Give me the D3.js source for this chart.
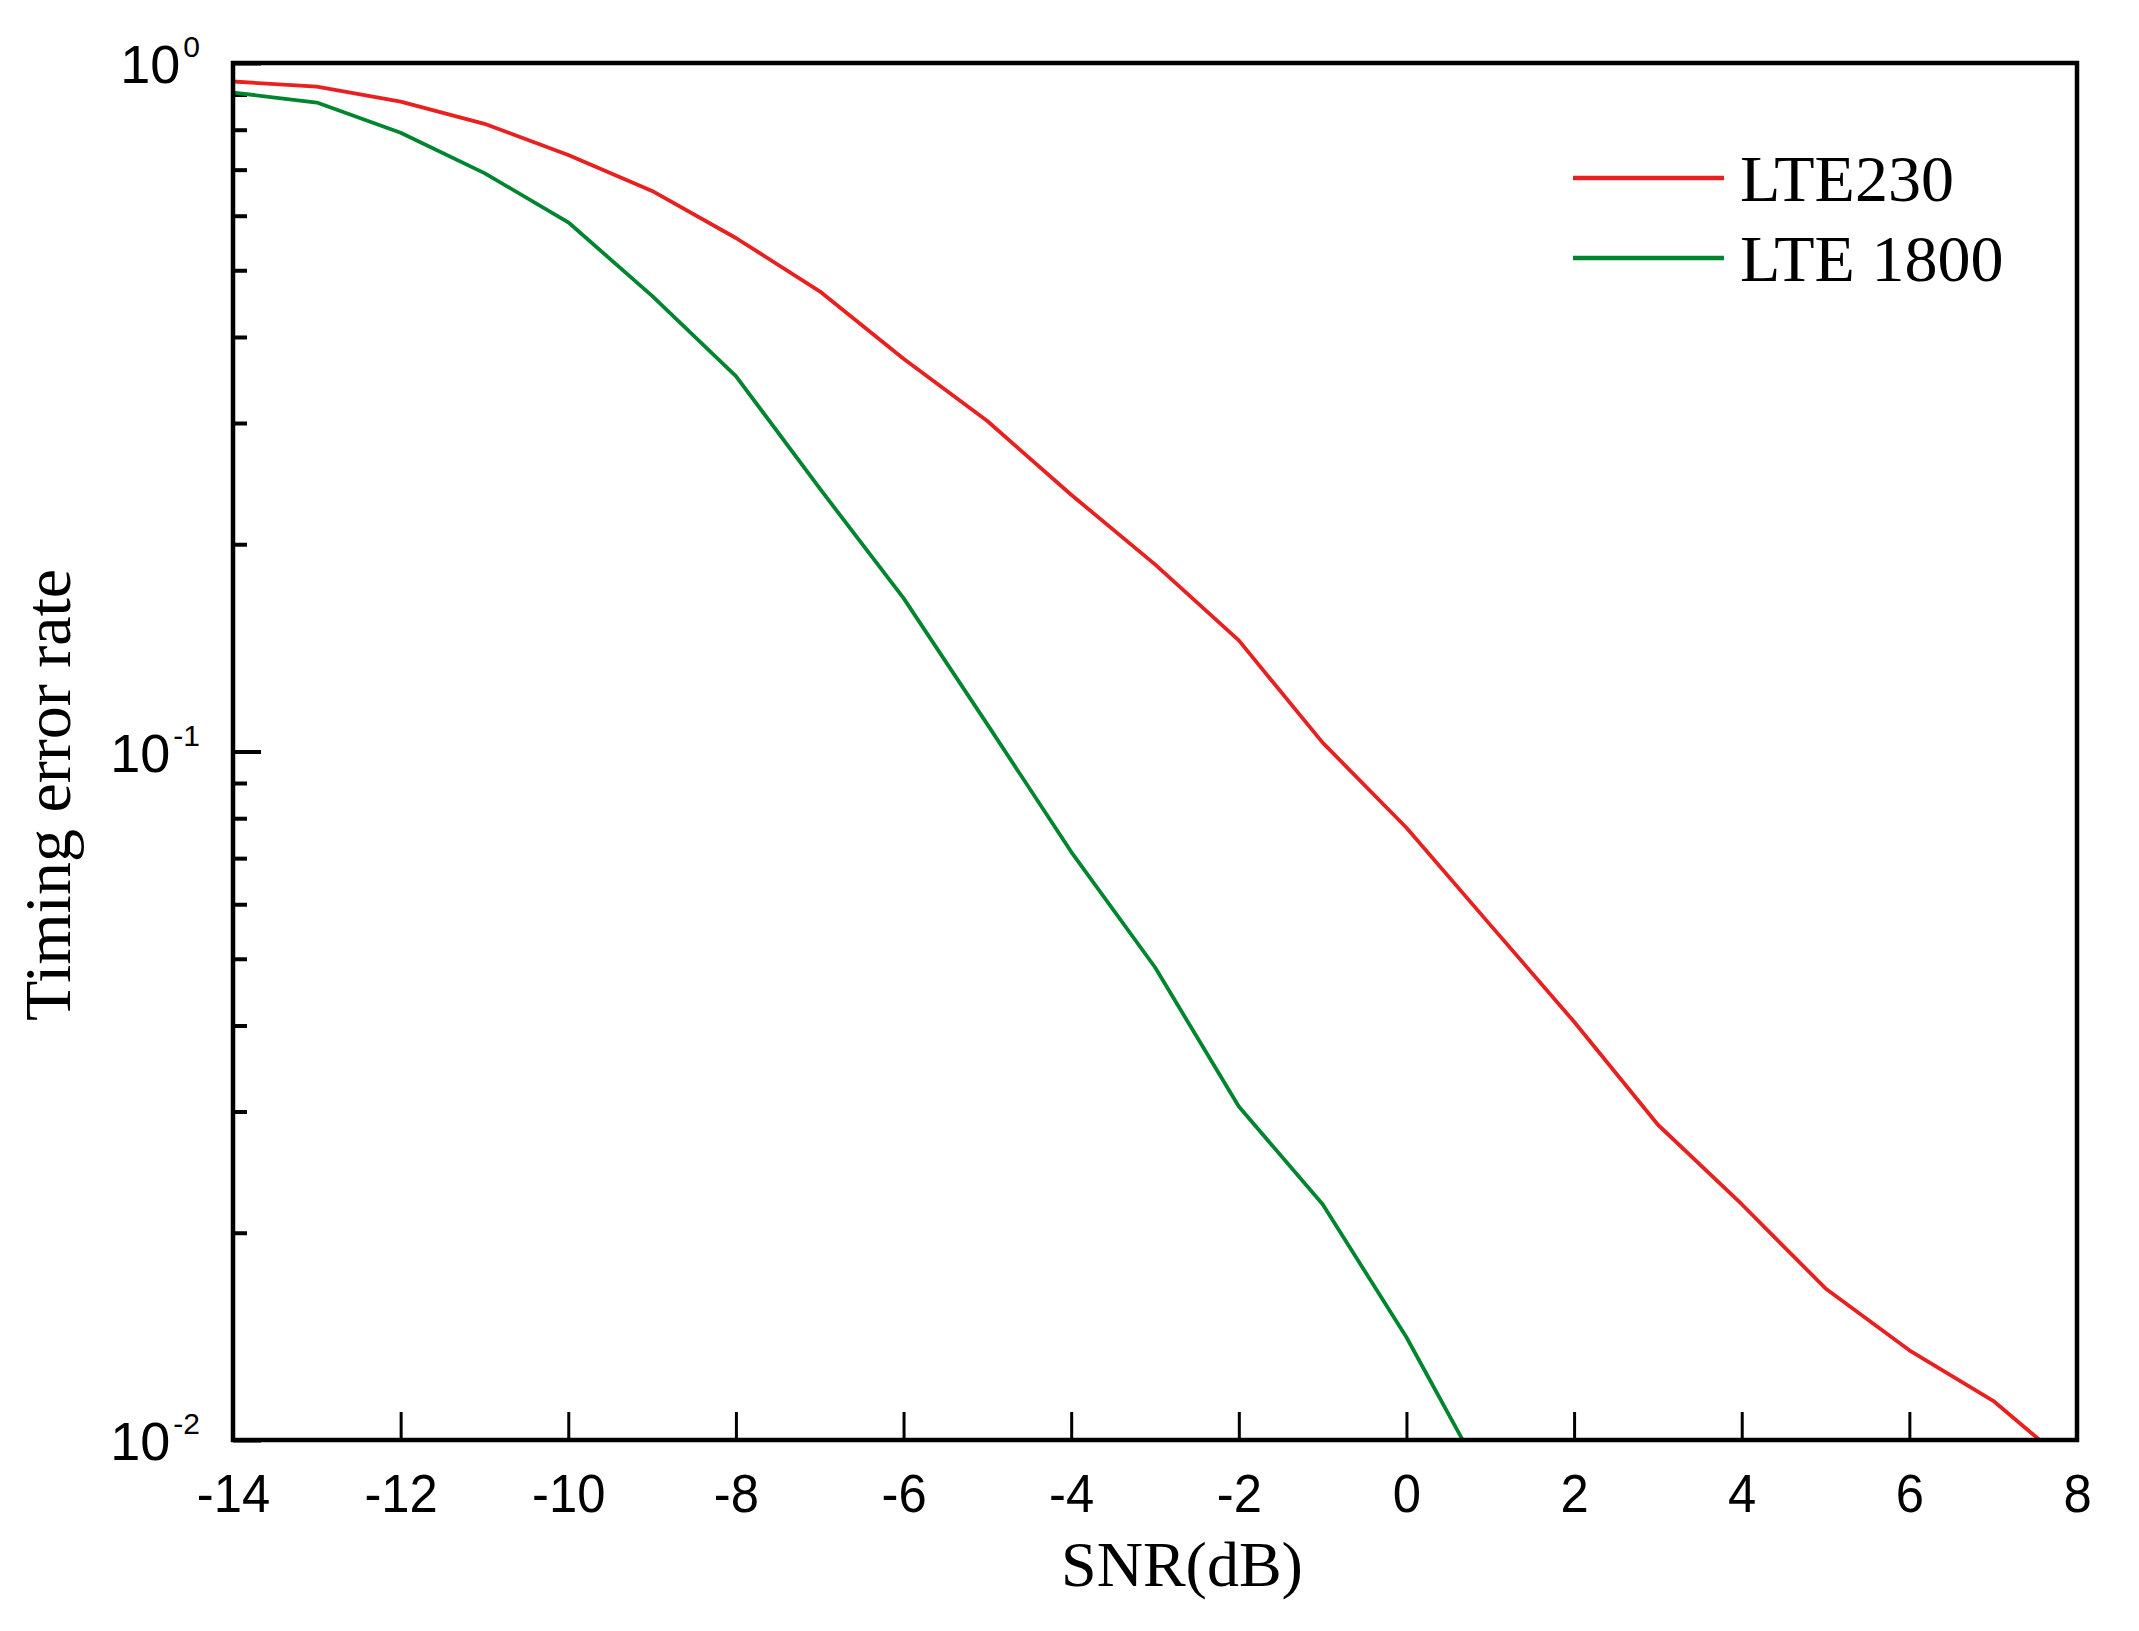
<!DOCTYPE html>
<html>
<head>
<meta charset="utf-8">
<script src="https://cdn.jsdelivr.net/npm/d3@7"></script>
<style>
  html, body { margin: 0; padding: 0; background: #fff; }
  svg { display: block; }
</style>
</head>
<body>
<svg id="chart" width="2139" height="1631"></svg>
<script>
// ---- data ----
const snr = [-14,-13,-12,-11,-10,-9,-8,-7,-6,-5,-4,-3,-2,-1,0,1,2,3,4,5,6,7,8];
const lte230 = [0.940,0.924,0.879,0.816,0.735,0.652,0.557,0.466,0.372,0.302,0.236,0.187,0.145,0.103,0.0775,0.056,0.0405,0.0287,0.022,0.0166,0.0135,0.0114,0.0090];
const snr1800 = [-14,-13,-12,-11,-10,-9,-8,-7,-6,-5,-4,-3,-2,-1,0,1];
const lte1800 = [0.906,0.876,0.792,0.692,0.587,0.459,0.351,0.241,0.167,0.1095,0.0715,0.0486,0.0305,0.022,0.0141,0.00845];
const xTicks = [-14,-12,-10,-8,-6,-4,-2,0,2,4,6,8];
const yMajor = [1, 0.1, 0.01];
const yExp = ["0", "-1", "-2"];
const seriesNames = ["LTE230", "LTE 1800"];
const seriesColors = ["#e8201f", "#00852f"];

// ---- layout ----
const L = 233, R = 2077, T = 63, B = 1440;
const svg = d3.select("#chart");
const x = d3.scaleLinear().domain([-14, 8]).range([L, R]);
const y = d3.scaleLog().domain([0.01, 1]).range([B, T]);

svg.append("defs").append("clipPath").attr("id", "clip")
  .append("rect").attr("x", L).attr("y", T).attr("width", R - L).attr("height", B - T);

// minor y ticks
const yMinor = [];
[0.01, 0.1].forEach(d => { for (let k = 2; k <= 9; k++) yMinor.push(d * k); });

// x axis ticks (inward)
const xAxis = d3.axisBottom(x).tickValues(xTicks).tickSize(-28).tickPadding(0).tickFormat(d3.format("d"));
const gx = svg.append("g").attr("transform", `translate(0,${B})`).call(xAxis);
gx.select(".domain").remove();
gx.selectAll(".tick line").attr("stroke", "#000").attr("stroke-width", 3);
gx.selectAll(".tick text").remove();
gx.selectAll(".tick").append("text")
  .attr("y", 72).attr("text-anchor", "middle")
  .attr("transform", "scale(0.94,1)")
  .style("font-family", "'Liberation Sans', Arial, sans-serif")
  .style("font-size", "54px").attr("fill", "#000")
  .text(d => String(d));

// y axis major ticks
const yAxisMajor = d3.axisLeft(y).tickValues(yMajor).tickSize(-28).tickFormat("");
const gy = svg.append("g").attr("transform", `translate(${L},0)`).call(yAxisMajor);
gy.select(".domain").remove();
gy.selectAll(".tick line").attr("stroke", "#000").attr("stroke-width", 4);
const yAxisMinor = d3.axisLeft(y).tickValues(yMinor).tickSize(-14).tickFormat("");
const gym = svg.append("g").attr("transform", `translate(${L},0)`).call(yAxisMinor);
gym.select(".domain").remove();
gym.selectAll(".tick line").attr("stroke", "#000").attr("stroke-width", 4);

// y tick labels 10^n, right-aligned as a whole
const labelRight = 200;
yMajor.forEach((v, i) => {
  const sup = svg.append("text")
    .attr("x", labelRight).attr("y", y(v) - 6)
    .attr("text-anchor", "end")
    .style("font-family", "'Liberation Sans', Arial, sans-serif")
    .style("font-size", "30px").attr("fill", "#000")
    .text(yExp[i]);
  const w = sup.node().getComputedTextLength();
  svg.append("text")
    .attr("x", labelRight - w - 3).attr("y", y(v) + 20)
    .attr("text-anchor", "end")
    .style("font-family", "'Liberation Sans', Arial, sans-serif")
    .style("font-size", "54px").attr("fill", "#000")
    .text("10");
});

// lines
const line = d3.line().x(d => x(d[0])).y(d => y(d[1]));
const plot = svg.append("g").attr("clip-path", "url(#clip)");
plot.append("path").datum(snr.map((s, i) => [s, lte230[i]]))
  .attr("d", line).attr("fill", "none").attr("stroke", seriesColors[0]).attr("stroke-width", 3.8)
  .attr("stroke-linejoin", "round");
plot.append("path").datum(snr1800.map((s, i) => [s, lte1800[i]]))
  .attr("d", line).attr("fill", "none").attr("stroke", seriesColors[1]).attr("stroke-width", 3.8)
  .attr("stroke-linejoin", "round");

// frame
svg.append("rect").attr("x", L).attr("y", T).attr("width", R - L).attr("height", B - T)
  .attr("fill", "none").attr("stroke", "#000").attr("stroke-width", 4.5);

// legend
const legY = [178, 258];
seriesNames.forEach((n, i) => {
  svg.append("line").attr("x1", 1573).attr("x2", 1724).attr("y1", legY[i]).attr("y2", legY[i])
    .attr("stroke", seriesColors[i]).attr("stroke-width", 4.5);
  svg.append("text").attr("x", 1740).attr("y", legY[i] + 23)
    .style("font-family", "'Liberation Serif', 'Times New Roman', serif")
    .style("font-size", "66px").attr("fill", "#000").text(n);
});

// axis titles
svg.append("text").attr("x", 1182).attr("y", 1586).attr("text-anchor", "middle")
  .style("font-family", "'Liberation Serif', 'Times New Roman', serif")
  .style("font-size", "64px").attr("fill", "#000").text("SNR(dB)");
svg.append("text").attr("transform", "translate(70,795) rotate(-90)").attr("text-anchor", "middle")
  .style("font-family", "'Liberation Serif', 'Times New Roman', serif")
  .style("font-size", "66px").attr("fill", "#000").text("Timing error rate");
</script>
</body>
</html>
